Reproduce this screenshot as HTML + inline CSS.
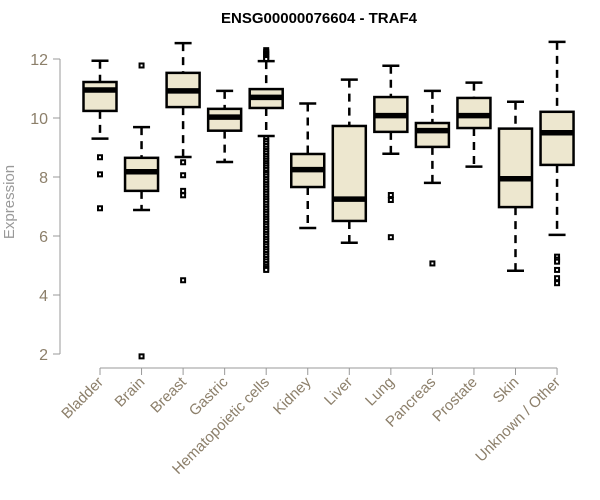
<!DOCTYPE html>
<html><head><meta charset="utf-8"><style>
body{margin:0;background:#fff;}
svg{display:block;font-family:"Liberation Sans",Arial,sans-serif;}
</style></head><body>
<svg id="chart" width="600" height="500" viewBox="0 0 600 500">
<text x="319" y="23" text-anchor="middle" font-size="15" font-weight="bold">ENSG00000076604 - TRAF4</text>
<text transform="translate(14,202) rotate(-90)" text-anchor="middle" font-size="15" fill="#999">Expression</text>
<g id="axes"></g><g id="boxes"></g>
</svg>
<script>
const categories=["Bladder","Brain","Breast","Gastric","Hematopoietic cells","Kidney","Liver","Lung","Pancreas","Prostate","Skin","Unknown / Other"];
const whiskerLow=[9.30,6.88,8.68,8.51,9.39,6.27,5.77,8.79,7.80,8.35,4.82,6.04];
const q1=[10.24,7.53,10.37,9.57,10.34,7.66,6.51,9.53,9.02,9.66,6.98,8.41];
const medians=[10.95,8.18,10.92,10.03,10.70,8.25,7.25,10.08,9.57,10.08,7.94,9.50];
const q3=[11.22,8.65,11.53,10.31,10.98,8.78,9.73,10.71,9.83,10.68,9.64,10.21];
const whiskerHigh=[11.94,9.69,12.54,10.92,11.93,10.49,11.30,11.77,10.92,11.20,10.55,12.58];
const outliers=[
 [8.67,8.09,6.94],
 [11.78,1.92],
 [8.50,8.06,7.53,7.38,4.50],
 [],
 [12.30,12.24,12.18,12.12,12.06,12.00,9.31,9.22,9.14,9.05,8.96,8.88,8.80,8.71,8.63,8.55,8.47,8.40,8.32,8.24,8.15,8.10,8.02,7.93,7.85,7.76,7.68,7.60,7.51,7.43,7.34,7.26,7.18,7.09,7.00,6.92,6.83,6.75,6.66,6.58,6.50,6.41,6.33,6.24,6.16,6.07,5.99,5.90,5.82,5.73,5.65,5.56,5.48,5.39,5.31,5.22,5.14,5.05,4.97,4.90,4.85],
 [],
 [],
 [7.39,7.22,5.96],
 [5.07],
 [],
 [],
 [5.30,5.20,5.13,4.85,4.57,4.40]
];
const yTicks=[2,4,6,8,10,12];
const NS="http://www.w3.org/2000/svg";
const y=v=>354-(v-2)*29.5;
const x=i=>100+i*41.55;
function mk(tag,attrs,parent){const e=document.createElementNS(NS,tag);for(const k in attrs)e.setAttribute(k,attrs[k]);parent.appendChild(e);return e;}
const axes=document.getElementById('axes'),boxes=document.getElementById('boxes');
const yl=mk('line',{x1:60,x2:60,y1:y(12),y2:y(2),stroke:'#999','stroke-width':1},axes);


yTicks.forEach(t=>{
 const l=mk('line',{x1:53,x2:60,y1:y(t),y2:y(t),stroke:'#999'},axes);
 
 
 const tx=mk('text',{x:48,y:y(t)+6,'text-anchor':'end','font-size':16,fill:'#8c7f6a'},axes);
 tx.textContent=t;
 
 
});
const xl=mk('line',{x1:x(0),x2:x(categories.length-1),y1:368,y2:368,stroke:'#999'},axes);


categories.forEach((c,i)=>{
 const cx=x(i);
 const tk=mk('line',{x1:cx,x2:cx,y1:368,y2:375,stroke:'#999'},axes);
 
 
 const lb=mk('text',{transform:`translate(${cx+4},383) rotate(-45)`,'text-anchor':'end','font-size':15,fill:'#8c7f6a'},axes);
 lb.textContent=c;
 
 
 const g=mk('g',{},boxes);
 
 
 const w=33,cw=17;
 mk('line',{x1:cx,x2:cx,y1:y(whiskerHigh[i]),y2:y(q3[i]),stroke:'#000','stroke-width':2.5,'stroke-dasharray':'8,6'},g);
 mk('line',{x1:cx,x2:cx,y1:y(q1[i]),y2:y(whiskerLow[i]),stroke:'#000','stroke-width':2.5,'stroke-dasharray':'8,6'},g);
 mk('line',{x1:cx-cw/2,x2:cx+cw/2,y1:y(whiskerHigh[i]),y2:y(whiskerHigh[i]),stroke:'#000','stroke-width':2.5},g);
 mk('line',{x1:cx-cw/2,x2:cx+cw/2,y1:y(whiskerLow[i]),y2:y(whiskerLow[i]),stroke:'#000','stroke-width':2.5},g);
 mk('rect',{x:cx-w/2,y:y(q3[i]),width:w,height:y(q1[i])-y(q3[i]),fill:'#ede7cf',stroke:'#000','stroke-width':2.5},g);
 mk('line',{x1:cx-w/2,x2:cx+w/2,y1:y(medians[i]),y2:y(medians[i]),stroke:'#000','stroke-width':5.5},g);
 outliers[i].forEach(v=>{
  const r=mk('rect',{x:cx-2,y:y(v)-2,width:4,height:4,fill:'#fff',stroke:'#000','stroke-width':2},g);
  
  
 });
});
</script>
</body></html>
